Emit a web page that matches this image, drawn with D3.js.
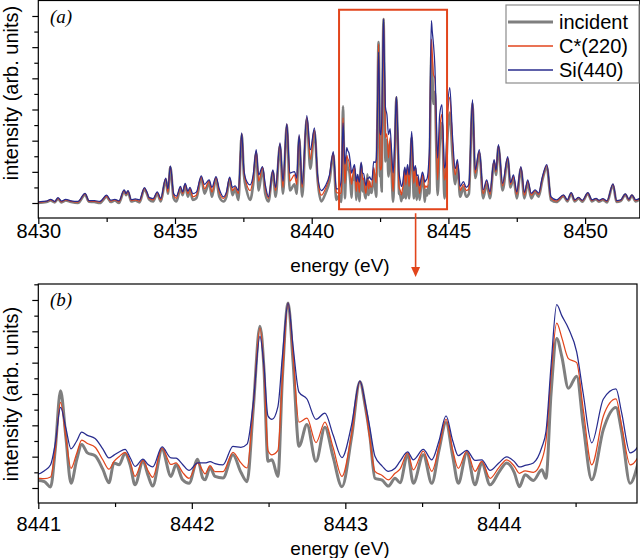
<!DOCTYPE html>
<html><head><meta charset="utf-8">
<script src="https://cdn.jsdelivr.net/npm/d3@7"></script>
<style>
html,body{margin:0;padding:0;background:#fff;}
svg{display:block;}
text{font-family:"Liberation Sans",Arial,sans-serif;fill:#000;}
</style></head>
<body>
<svg id="chart" width="640" height="558"></svg>
<script>
// ---------------- DATA ----------------
const seriesNames = ["incident", "C*(220)", "Si(440)"];

const energy = [
  8430.00,8430.30,8430.45,8430.60,8430.72,8430.85,8431.00,8431.20,8431.45,8431.71,
  8431.85,8432.05,8432.25,8432.50,8432.65,8432.80,8432.95,8433.14,8433.21,8433.28,
  8433.40,8433.55,8433.70,8433.88,8433.97,8434.05,8434.20,8434.35,8434.48,8434.66,
  8434.74,8434.83,8434.95,8435.05,8435.20,8435.28,8435.37,8435.47,8435.55,8435.65,
  8435.78,8435.96,8436.08,8436.25,8436.35,8436.50,8436.62,8436.77,8436.88,8437.00,
  8437.10,8437.20,8437.32,8437.44,8437.52,8437.62,8437.75,8437.86,8437.97,8438.06,
  8438.20,8438.30,8438.42,8438.58,8438.68,8438.84,8438.95,8439.09,8439.20,8439.37,
  8439.45,8439.54,8439.65,8439.82,8439.95,8440.10,8440.22,8440.35,8440.50,8440.65,
  8440.79,8440.90,
  8441.000,8441.040,8441.080,8441.110,8441.145,8441.180,8441.213,8441.250,8441.283,8441.320,
  8441.370,8441.420,8441.460,8441.493,8441.526,8441.565,8441.600,8441.630,8441.682,8441.715,
  8441.745,8441.806,8441.864,8441.897,8441.940,8441.982,8442.038,8442.071,8442.086,8442.119,
  8442.151,8442.203,8442.268,8442.320,8442.360,8442.400,8442.444,8442.470,8442.496,8442.522,
  8442.561,8442.590,8442.627,8442.660,8442.698,8442.750,8442.809,8442.867,8442.920,8442.978,
  8443.040,8443.095,8443.130,8443.160,8443.193,8443.240,8443.280,8443.324,8443.356,8443.406,
  8443.443,8443.508,8443.563,8443.610,8443.656,8443.700,8443.736,8443.791,8443.845,8443.889,
  8443.943,8444.000,8444.051,8444.100,8444.134,8444.171,8444.225,8444.280,8444.307,8444.340,
  8444.377,8444.410,8444.453,8444.507,8444.550,8444.605,8444.681,8444.763,8444.800,8444.855,
  8444.907,
  8444.95,8445.05,8445.15,8445.25,8445.33,8445.43,8445.55,8445.65,8445.75,8445.88,
  8445.98,8446.13,8446.27,8446.40,8446.52,8446.67,8446.74,8446.83,8446.98,8447.17,
  8447.27,8447.38,8447.50,8447.65,8447.78,8447.90,8448.03,8448.17,8448.30,8448.44,
  8448.60,8448.75,8448.95,8449.21,8449.35,8449.49,8449.62,8449.76,8449.90,8450.10,
  8450.25,8450.40,8450.50,8450.65,8450.80,8451.02,8451.15,8451.30,8451.47,8451.60,
  8451.71,8451.85,8452.00
];

const incident = [
  0.00,0.03,0.08,0.02,0.13,0.02,0.08,0.03,0.00,0.27,
  0.04,0.03,0.00,0.20,0.03,0.08,0.00,0.38,0.25,0.36,
  0.05,0.08,0.02,0.44,0.30,0.12,0.05,0.30,0.05,0.75,
  0.30,1.15,0.15,0.05,0.45,0.25,0.58,0.20,0.40,0.10,
  0.15,0.80,0.30,0.65,0.20,0.78,0.20,0.05,0.20,0.78,
  0.25,0.45,0.10,2.20,0.90,0.40,0.10,0.60,1.60,0.40,
  1.10,0.30,0.05,1.00,0.20,1.85,0.30,2.50,0.40,0.60,
  0.30,2.10,0.20,2.70,1.10,2.30,0.70,0.05,0.30,0.70,
  1.55,0.10,
  0.24,0.20,0.03,1.20,3.10,1.60,0.15,0.90,1.39,1.12,
  1.03,0.60,0.17,0.80,0.74,1.10,0.70,0.10,0.85,0.40,
  0.06,1.23,0.37,0.74,0.26,0.15,0.92,0.32,0.26,0.65,
  0.37,0.32,1.06,0.50,0.20,2.50,5.16,3.80,0.85,0.90,
  0.37,3.50,5.90,4.00,1.33,2.03,0.85,1.94,1.00,0.04,
  1.60,3.39,2.60,1.66,0.31,0.25,0.06,0.31,0.17,1.06,
  0.15,1.06,0.15,1.20,2.09,1.00,0.15,1.12,0.10,0.80,
  0.10,0.50,0.80,0.50,0.04,0.42,0.24,0.58,0.31,3.00,
  4.77,4.20,3.18,3.57,2.00,0.26,1.87,2.57,1.80,0.15,
  0.80,
  1.80,2.90,1.50,0.60,1.20,0.20,0.50,0.20,0.30,3.20,
  0.80,1.60,0.15,0.60,0.15,1.30,0.90,1.80,0.40,1.40,
  0.50,0.80,0.15,1.10,0.15,0.65,0.15,0.35,0.20,0.75,
  1.15,0.10,0.03,0.22,0.05,0.30,0.05,0.15,0.04,0.30,
  0.05,0.12,0.04,0.10,0.02,0.58,0.03,0.06,0.27,0.08,
  0.24,0.05,0.12
];

const c220 = [
  0.02,0.05,0.10,0.04,0.15,0.04,0.10,0.05,0.03,0.29,
  0.06,0.05,0.03,0.22,0.06,0.10,0.04,0.40,0.28,0.38,
  0.08,0.10,0.06,0.47,0.33,0.15,0.10,0.33,0.10,0.78,
  0.35,1.17,0.25,0.15,0.50,0.30,0.60,0.30,0.45,0.20,
  0.25,0.84,0.45,0.70,0.35,0.82,0.35,0.15,0.30,0.80,
  0.40,0.50,0.30,2.23,1.00,0.60,0.40,0.80,1.66,0.70,
  1.15,0.50,0.15,1.03,0.40,1.90,0.50,2.53,0.70,0.90,
  0.60,2.15,0.50,2.75,1.40,2.35,0.80,0.25,0.45,0.85,
  1.60,0.35,
  0.31,0.30,0.35,1.20,2.73,1.60,0.63,1.10,1.53,1.42,
  1.30,0.90,0.60,0.85,1.00,1.14,0.80,0.37,0.88,0.55,
  0.34,1.28,0.75,0.80,0.50,0.31,0.80,0.55,0.45,0.71,
  0.52,0.52,1.14,0.80,0.64,2.60,5.10,3.80,1.20,1.06,
  1.20,3.50,5.90,4.20,2.10,2.23,1.45,2.10,1.30,0.37,
  1.70,3.40,2.60,1.55,0.53,0.40,0.26,0.47,0.60,1.12,
  0.58,1.18,0.53,1.30,2.19,1.20,0.63,1.18,0.53,0.85,
  0.31,0.65,0.90,0.70,0.47,0.55,0.50,0.90,1.50,3.60,
  5.26,4.80,4.13,4.00,2.50,0.74,2.30,2.84,2.00,0.74,
  1.00,
  2.30,3.40,1.90,0.90,1.30,0.40,0.60,0.40,0.45,3.28,
  0.95,1.65,0.30,0.70,0.28,1.35,1.00,1.84,0.55,1.45,
  0.60,0.85,0.28,1.14,0.25,0.70,0.25,0.40,0.28,0.80,
  1.20,0.15,0.06,0.24,0.08,0.31,0.08,0.17,0.07,0.31,
  0.08,0.14,0.07,0.12,0.05,0.60,0.06,0.08,0.28,0.10,
  0.25,0.08,0.14
];

const si440 = [
  0.04,0.06,0.12,0.05,0.17,0.06,0.12,0.07,0.05,0.31,
  0.08,0.08,0.05,0.25,0.09,0.12,0.07,0.42,0.30,0.40,
  0.11,0.13,0.10,0.49,0.36,0.18,0.14,0.36,0.15,0.80,
  0.45,1.19,0.30,0.22,0.53,0.35,0.63,0.38,0.50,0.30,
  0.35,0.87,0.60,0.74,0.50,0.85,0.45,0.20,0.35,0.83,
  0.50,0.55,0.40,2.25,1.06,0.70,0.58,0.90,1.71,0.90,
  1.17,0.60,0.20,1.06,0.50,1.93,0.70,2.55,0.96,1.01,
  0.80,2.19,0.60,2.80,1.71,2.41,0.85,0.40,0.55,0.90,
  1.65,0.45,
  0.45,0.55,0.74,1.40,2.57,1.90,1.25,1.50,1.78,1.68,
  1.58,1.25,0.96,1.05,1.15,1.23,0.95,0.69,0.92,0.75,
  0.67,1.31,0.96,0.95,0.75,0.56,0.80,0.80,0.80,0.84,
  0.78,0.74,1.33,1.30,1.40,2.70,4.84,3.90,2.30,2.19,
  2.60,4.20,5.90,4.50,3.06,2.84,2.19,2.39,1.70,0.97,
  2.00,3.42,2.70,1.92,1.01,0.70,0.53,0.63,0.85,1.15,
  0.90,1.23,0.90,1.50,2.30,1.50,1.03,1.20,0.88,0.90,
  0.56,0.80,0.99,0.85,0.67,0.72,0.80,1.30,1.80,3.90,
  5.85,5.50,5.10,4.34,3.00,1.44,2.84,3.16,2.40,1.12,
  1.33,
  2.60,3.70,2.14,1.10,1.39,0.53,0.69,0.50,0.60,3.32,
  1.06,1.71,0.42,0.74,0.36,1.39,1.05,1.87,0.63,1.49,
  0.65,0.90,0.36,1.17,0.34,0.74,0.31,0.42,0.32,0.85,
  1.23,0.20,0.10,0.26,0.10,0.33,0.10,0.18,0.09,0.33,
  0.10,0.15,0.09,0.14,0.07,0.61,0.08,0.10,0.29,0.12,
  0.26,0.10,0.15
];

const seriesValues = [incident, c220, si440];
const seriesColors = ["#7f7f7f", "#e2451c", "#282c8e"];

// axis ticks
const topXMajor = [8430, 8435, 8440, 8445, 8450];
const topXMinor = [8432.5, 8437.5, 8442.5, 8447.5];
const botXMajor = [8441, 8442, 8443, 8444];
const botXMinor = [8441.5, 8442.5, 8443.5, 8444.5];
const yMajor = [0, 1, 2, 3, 4, 5, 6];
const yMinor = [0.5, 1.5, 2.5, 3.5, 4.5, 5.5, 6.5];

const zoomBox = {e0: 8441, e1: 8444.95, v0: -0.2, v1: 6.2};
const arrowEnergy = 8443.8;

// ---------------- DRAW ----------------
const svg = d3.select("#chart");

const panels = [
  {id:"a", label:"(a)", xDomain:[8430, 8452], xRange:[38.3, 639.8],
   yDomain:[-0.481, 6.497], yRange:[218, 0.5], xMajor:topXMajor, xMinor:topXMinor,
   labelTop:6, titleY:265, grayW:2.6, yTitleCenter:93},
  {id:"b", label:"(b)", xDomain:[8441, 8444.9], xRange:[38.3, 637],
   yDomain:[-0.479, 6.51], yRange:[503, 284], xMajor:botXMajor, xMinor:botXMinor,
   labelTop:14, titleY:548, grayW:3.0, yTitleCenter:394}
];

const pts = energy.map((e, i) => ({e, v: seriesValues.map(s => s[i])}));

panels.forEach(p => {
  const x = d3.scaleLinear().domain(p.xDomain).range(p.xRange);
  const y = d3.scaleLinear().domain(p.yDomain).range(p.yRange);
  const [x0, x1] = p.xRange, [yb, yt] = p.yRange;

  svg.append("clipPath").attr("id", "clip-" + p.id)
    .append("rect").attr("x", x0).attr("y", yt).attr("width", x1 - x0).attr("height", yb - yt);

  const g = svg.append("g").attr("clip-path", `url(#clip-${p.id})`);
  const data = pts.filter(d => d.e >= p.xDomain[0] - 0.3 && d.e <= p.xDomain[1] + 0.3);
  seriesValues.forEach((s, k) => {
    const line = d3.line().x(d => x(d.e)).y(d => y(d.v[k])).curve(d3.curveMonotoneX);
    g.append("path").datum(data).attr("d", line)
      .attr("fill", "none").attr("stroke", seriesColors[k])
      .attr("stroke-width", k === 0 ? p.grayW : 1.25)
      .attr("stroke-linejoin", "round");
  });

  // frame
  svg.append("rect").attr("x", x0).attr("y", yt).attr("width", x1 - x0).attr("height", yb - yt)
    .attr("fill", "none").attr("stroke", "#000").attr("stroke-width", 1.2);

  // x axis
  const xa = svg.append("g").attr("transform", `translate(0,${yb})`)
    .call(d3.axisBottom(x).tickValues(p.xMajor).tickSize(6).tickFormat(d3.format("d")));
  xa.select(".domain").remove();
  xa.selectAll("line").attr("stroke", "#000").attr("stroke-width", 1.2);
  xa.selectAll("text").attr("y", p.labelTop).attr("dy", "0.71em")
    .style("font-size", "20px").style("font-family", '"Liberation Sans",Arial,sans-serif').attr("fill", "#000");
  const xm = svg.append("g").attr("transform", `translate(0,${yb})`)
    .call(d3.axisBottom(x).tickValues(p.xMinor).tickSize(4).tickFormat(""));
  xm.select(".domain").remove();
  xm.selectAll("line").attr("stroke", "#000").attr("stroke-width", 1.2);

  // y axis (no labels)
  const ya = svg.append("g").attr("transform", `translate(${x0},0)`)
    .call(d3.axisLeft(y).tickValues(yMajor).tickSize(6).tickFormat(""));
  ya.select(".domain").remove();
  ya.selectAll("line").attr("stroke", "#000").attr("stroke-width", 1.2);
  const ym = svg.append("g").attr("transform", `translate(${x0},0)`)
    .call(d3.axisLeft(y).tickValues(yMinor.filter(v => v < p.yDomain[1])).tickSize(4).tickFormat(""));
  ym.select(".domain").remove();
  ym.selectAll("line").attr("stroke", "#000").attr("stroke-width", 1.2);

  // titles
  svg.append("text").attr("x", 340).attr("y", p.titleY).attr("text-anchor", "middle")
    .attr("dominant-baseline", "central").style("font-size", "19px").text("energy (eV)");
  svg.append("text").attr("transform", `translate(11,${p.yTitleCenter}) rotate(-90)`)
    .attr("text-anchor", "middle").attr("dominant-baseline", "central")
    .style("font-size", "20px").text("intensity (arb. units)");

  // panel label
  svg.append("text").attr("x", 50).attr("y", yt + 22)
    .style("font-family", '"Liberation Serif","Times New Roman",serif').style("font-style", "italic")
    .style("font-size", "19px").text(p.label);

  p.x = x; p.y = y;
});

// zoom box and arrow on panel (a)
const pa = panels[0];
const bx0 = pa.x(zoomBox.e0), bx1 = pa.x(zoomBox.e1), by0 = pa.y(zoomBox.v1), by1 = pa.y(zoomBox.v0);
svg.append("rect").attr("x", bx0).attr("y", by0).attr("width", bx1 - bx0).attr("height", by1 - by0)
  .attr("fill", "none").attr("stroke", "#e2451c").attr("stroke-width", 2);
const ax = pa.x(arrowEnergy), ayStart = by1 + 4, ayEnd = panels[1].yRange[1] - 7;
svg.append("line").attr("x1", ax).attr("x2", ax).attr("y1", ayStart).attr("y2", ayEnd - 8)
  .attr("stroke", "#e2451c").attr("stroke-width", 1.6);
svg.append("path").attr("d", `M${ax - 4.5},${ayEnd - 10} L${ax + 4.5},${ayEnd - 10} L${ax},${ayEnd} Z`)
  .attr("fill", "#e2451c");

// legend
const lg = svg.append("g");
lg.append("rect").attr("x", 506).attr("y", 5).attr("width", 133).attr("height", 78)
  .attr("fill", "#fff").attr("stroke", "#8c8c8c").attr("stroke-width", 1.2);
const legendY = [22, 46, 70];
seriesNames.forEach((n, k) => {
  lg.append("line").attr("x1", 508).attr("x2", 553).attr("y1", legendY[k]).attr("y2", legendY[k])
    .attr("stroke", seriesColors[k]).attr("stroke-width", k === 0 ? 3 : 1.3);
  lg.append("text").attr("x", 559).attr("y", legendY[k]).attr("dominant-baseline", "central")
    .style("font-size", "20px").text(n);
});
</script>
</body></html>
